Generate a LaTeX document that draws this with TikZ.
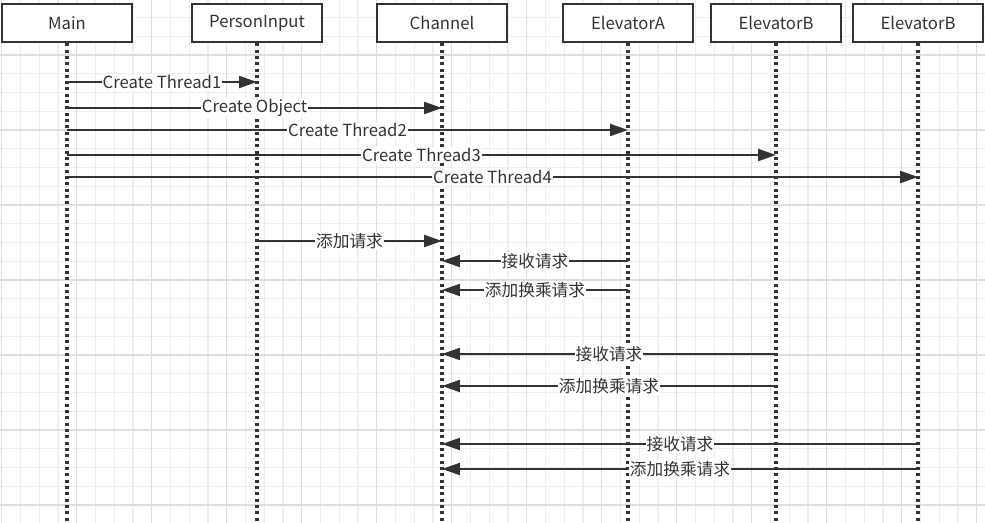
\documentclass[tikz,border=0pt]{standalone}
\usepackage{fontspec}
\setmainfont{Noto Sans CJK SC}
\usetikzlibrary{positioning,arrows.meta}
\definecolor{ink}{HTML}{333333}
\definecolor{gridlo}{HTML}{EEEEEE}
\definecolor{gridhi}{HTML}{DEDEDE}

\begin{document}
\begin{tikzpicture}[
  x=0.02cm, y=-0.02cm,
  every node/.style={font=\fontsize{9.5}{11}\selectfont, text=ink},
  actor/.style={rectangle, draw=ink, line width=1.4pt, fill=white, minimum width=2.6cm, minimum height=0.76cm, inner sep=0pt},
  life/.style={ink, line width=2pt, dash pattern=on 1.7pt off 1.9pt},
  msg/.style={ink, line width=1.3pt, -{Triangle[length=3.6mm,width=2.4mm]}},
  lbl/.style={fill=white, inner sep=0.6pt}
]
\useasboundingbox (0,0) rectangle (985,523);
% background grid
\foreach \k in {0,...,52} {
  \draw[gridlo, line width=0.7pt] (1.7+18.75*\k,0) -- (1.7+18.75*\k,523);
}
\foreach \k in {-1,...,27} {
  \draw[gridlo, line width=0.7pt] (0,17.5+18.75*\k) -- (985,17.5+18.75*\k);
}
\foreach \k in {0,...,13} {
  \draw[gridhi, line width=0.7pt] (1.7+75*\k,0) -- (1.7+75*\k,523);
}
\foreach \k in {0,...,6} {
  \draw[gridhi, line width=0.7pt] (0,55+75*\k) -- (985,55+75*\k);
}

% actors
\node[actor] (main) at (67,23) {Main};
\node[actor] (pin) at (257,23) {PersonInput};
\node[actor] (chan) at (442,23) {Channel};
\node[actor] (eleA) at (628,23) {ElevatorA};
\node[actor] (eleB) at (776,23) {ElevatorB};
\node[actor] (eleC) at (918,23) {ElevatorB};

% lifelines
\foreach \n in {main,pin,chan,eleA,eleB,eleC} {
  \draw[life] (\n.south) -- (\n.south |- 0,523);
}

% creation messages
\draw[msg] (main.south |- 0,82) -- node[lbl] {Create Thread1} (pin.south |- 0,82);
\draw[msg] (main.south |- 0,108) -- node[lbl] {Create Object} (chan.south |- 0,108);
\draw[msg] (main.south |- 0,130) -- node[lbl] {Create Thread2} (eleA.south |- 0,130);
\draw[msg] (main.south |- 0,155) -- node[lbl] {Create Thread3} (eleB.south |- 0,155);
\draw[msg] (main.south |- 0,177) -- node[lbl] {Create Thread4} (eleC.south |- 0,177);

% requests
\draw[msg] (pin.south |- 0,241) -- node[lbl] {添加请求} (chan.south |- 0,241);
\draw[msg] (eleA.south |- 0,261) -- node[lbl] {接收请求} (chan.south |- 0,261);
\draw[msg] (eleA.south |- 0,290) -- node[lbl] {添加换乘请求} (chan.south |- 0,290);
\draw[msg] (eleB.south |- 0,354) -- node[lbl] {接收请求} (chan.south |- 0,354);
\draw[msg] (eleB.south |- 0,386) -- node[lbl] {添加换乘请求} (chan.south |- 0,386);
\draw[msg] (eleC.south |- 0,444) -- node[lbl] {接收请求} (chan.south |- 0,444);
\draw[msg] (eleC.south |- 0,469) -- node[lbl] {添加换乘请求} (chan.south |- 0,469);
\end{tikzpicture}
\end{document}
